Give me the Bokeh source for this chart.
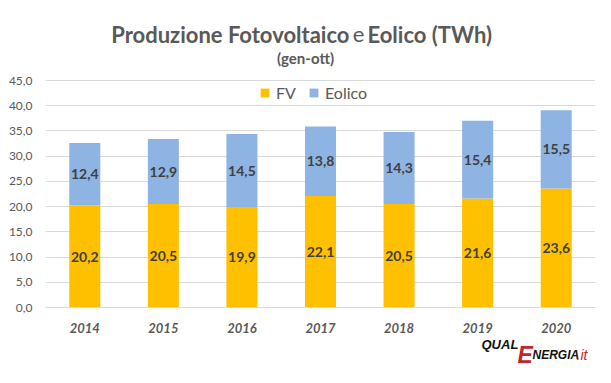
from bokeh.plotting import figure
from bokeh.models import ColumnDataSource, FixedTicker, CustomJSTickFormatter, Label
from bokeh.core.properties import value
from bokeh.embed import file_html
from bokeh.resources import INLINE

# ---- data ----
years = ["2014", "2015", "2016", "2017", "2018", "2019", "2020"]
fv = [20.2, 20.5, 19.9, 22.1, 20.5, 21.6, 23.6]
eolico = [12.4, 12.9, 14.5, 13.8, 14.3, 15.4, 15.5]
y_ticks = [0, 5, 10, 15, 20, 25, 30, 35, 40, 45]
series_names = ["FV", "Eolico"]

FONT = "Lato"
GREY = "#595959"
COL_FV = "#FFC000"
COL_EO = "#8DB4E2"

# layout constants (pixels)
W, H = 595, 367
LEFT = 45
Y_ZERO_PX, Y_TOP_PX = 307, 80          # canvas rows of the 0 and 45 gridlines
PX_PER_UNIT = (Y_ZERO_PX - Y_TOP_PX) / 45.0
y_lo = -(H - Y_ZERO_PX) / PX_PER_UNIT
y_hi = 45 + Y_TOP_PX / PX_PER_UNIT

def fmt(v):
    return f"{v:.1f}".replace(".", ",")

source = ColumnDataSource(dict(
    year=years,
    fv=fv,
    eolico=eolico,
    fv_mid=[f / 2 for f in fv],
    eo_mid=[f + e / 2 for f, e in zip(fv, eolico)],
    fv_txt=[fmt(v) for v in fv],
    eo_txt=[fmt(v) for v in eolico],
))

p = figure(x_range=years, y_range=(y_lo, y_hi), width=W, height=H,
           output_backend="svg", toolbar_location=None,
           min_border_left=LEFT, min_border_right=0,
           min_border_top=0, min_border_bottom=0)
p.outline_line_color = None
p.background_fill_color = "white"
p.border_fill_color = "white"

p.vbar_stack(["fv", "eolico"], x="year", width=0.395, source=source,
             color=[COL_FV, COL_EO], line_color=None,
             legend_label=series_names)

common = dict(text_align="center", text_baseline="middle",
              text_font=value(FONT), text_font_style="bold",
              text_font_size="14px", text_color="#404040")
p.text(x="year", y="fv_mid", text="fv_txt", source=source, **common)
p.text(x="year", y="eo_mid", text="eo_txt", source=source, **common)

# axes
p.yaxis.ticker = FixedTicker(ticks=y_ticks)
p.yaxis.formatter = CustomJSTickFormatter(code="return tick.toFixed(1).replace('.', ',');")
p.yaxis.axis_line_color = None
p.yaxis.major_tick_line_color = None
p.yaxis.minor_tick_line_color = None
p.yaxis.major_label_standoff = 7
p.yaxis.major_label_text_font = FONT
p.yaxis.major_label_text_font_size = "12px"
p.yaxis.major_label_text_color = GREY

p.xaxis.fixed_location = 0
p.xaxis.axis_line_color = "#d9d9d9"
p.xaxis.major_tick_line_color = None
p.xaxis.minor_tick_line_color = None
p.xaxis.major_label_standoff = 9
p.xaxis.major_label_text_font = FONT
p.xaxis.major_label_text_font_style = "bold italic"
p.xaxis.major_label_text_font_size = "13px"
p.xaxis.major_label_text_color = GREY

p.xgrid.grid_line_color = None
p.ygrid.grid_line_color = "#d9d9d9"
p.ygrid.ticker = FixedTicker(ticks=y_ticks)

# legend (bottom-left corner in px from frame bottom-left)
lg = p.legend[0]
lg.location = (214, 265)
lg.orientation = "horizontal"
lg.border_line_color = None
lg.background_fill_alpha = 0
lg.margin = 0
lg.padding = 2
lg.spacing = 12
lg.glyph_width = 11
lg.glyph_height = 11
lg.label_standoff = 6
lg.label_text_font = FONT
lg.label_text_font_size = "16px"
lg.label_text_color = GREY
lg.label_height = 16

def lab(text, cx, cy, size, style, color, align="left", baseline="alphabetic", font=FONT):
    # cx, cy: canvas pixels from top-left; converted to frame screen units
    p.add_layout(Label(x=cx - LEFT, y=H - cy, x_units="screen", y_units="screen", text=text,
                       text_font=font, text_font_size=size, text_font_style=style,
                       text_color=color, text_align=align, text_baseline=baseline))

# title
lab("Produzione Fotovoltaico", 349, 34, "22px", "bold", GREY, align="right")
lab("e", 358, 34, "22px", "normal", GREY, align="center")
lab("Eolico (TWh)", 367, 34, "22px", "bold", GREY, align="left")
lab("(gen-ott)", 305, 57, "15px", "bold", GREY, align="center")

# logo
LOGO = "Liberation Sans"
lab("QUAL", 481, 344, "13px", "bold italic", "#111111", font=LOGO)
lab("E", 517, 354, "23px", "bold italic", "#c0262d", font=LOGO)
lab("NERGIA", 532, 354, "12px", "bold italic", "#111111", font=LOGO)
lab(".it", 576, 354, "14px", "italic", "#c0262d", font=LOGO)

open("out.html", "w").write(file_html(p, INLINE))
